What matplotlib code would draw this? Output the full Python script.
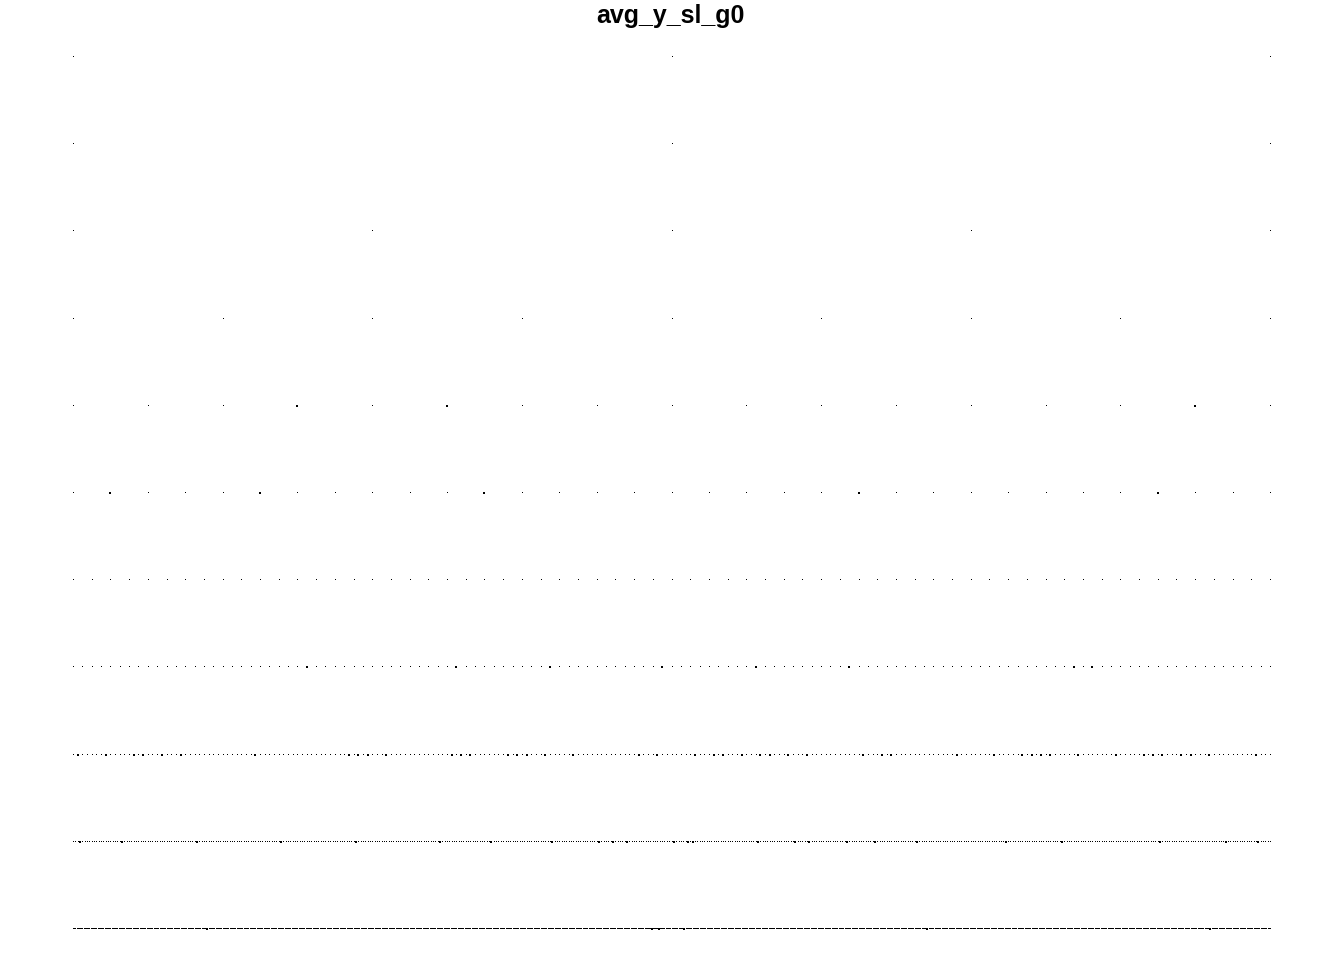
import numpy as np
import matplotlib
matplotlib.use('Agg')
import matplotlib.pyplot as plt

# number of points on each level (top to bottom)
level_counts = [3, 3, 5, 9, 17, 33, 65, 129, 257, 513, 1025]

# indices of the points that are drawn larger on each level
big_points = {
	4: [3, 5, 15],
	5: [1, 5, 11, 21, 29],
	7: [25, 41, 51, 63, 73, 83, 107, 109],
	8: [1, 7, 13, 15, 19, 23, 39, 59, 61, 63, 67, 81, 83, 85, 93, 95, 97, 101, 107,
		121, 125, 133, 137, 139, 143, 147, 149, 153, 157, 169, 173, 175, 189, 197,
		203, 205, 207, 209, 215, 223, 229, 231, 233, 237, 239, 243, 253],
	9: [3, 21, 53, 89, 121, 157, 179, 205, 225, 231, 237, 257, 263, 265, 293, 309,
		315, 331, 343, 361, 399, 423, 465, 493, 507],
	10: [115, 495, 501, 523, 731, 973],
}

title = 'avg_y_sl_g0'

plt.rcParams['font.family'] = ['Liberation Sans', 'DejaVu Sans']

fig = plt.figure(figsize=(13.44, 9.6), dpi=100)
ax = fig.add_axes([73/1344, 1-929/960, (1270-73)/1344, (929-57)/960])

for lev, n in enumerate(level_counts):
	x = np.linspace(0, 1, n)
	y = np.full(n, lev)
	big = np.zeros(n, dtype=bool)
	big[big_points.get(lev, [])] = True
	ax.plot(x[~big], y[~big], linestyle='none', marker=',', color='black', clip_on=False)
	if big.any():
		ax.plot(x[big], y[big], linestyle='none', marker='s', markersize=1.5,
				markeredgewidth=0, color='black', clip_on=False, antialiased=False)

ax.set_xlim(0, 1)
ax.set_ylim(len(level_counts)-1, 0)
ax.axis('off')

fig.text(670/1344, 1-16/960, title, ha='center', va='center', fontsize=18, fontweight='bold')

plt.savefig('out.png', dpi=100)
